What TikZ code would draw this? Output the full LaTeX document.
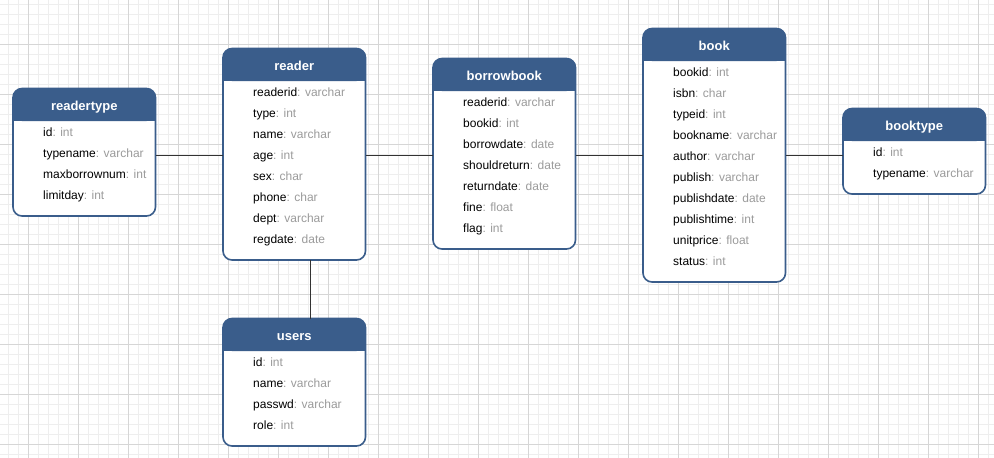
\documentclass[tikz,border=0pt]{standalone}
\usepackage{fontspec}
\setmainfont{Liberation Sans}
\usetikzlibrary{calc}
\definecolor{headcol}{HTML}{3A5D8B}
\definecolor{typegray}{HTML}{9B9B9B}
\definecolor{gridminor}{HTML}{EEEEEE}
\definecolor{gridmajor}{HTML}{D6D6D6}
\definecolor{linkgray}{HTML}{333333}
\newcommand\ertable[6]{%
  \pgfmathsetmacro\erh{32.5+21*#4+11}%
  \node[tablebox, minimum height=\erh pt, anchor=north west] (#1) at (#2,#3) {};
  \node[headbox, anchor=north west] (#1-head) at (#2,#3) {};
  \fill[headcol] (#1-head.west) rectangle (#1-head.south east);
  \path (#1-head.north) ++(0,21.5) node[headtext, anchor=base] (#1-title) {#5};
  \foreach \f/\t [count=\i] in {#6} {
    \path (#1.north west) ++(30,{47.5+21*(\i-1)}) node[rowtext, anchor=base west] (#1-r\i) {\f\textcolor{typegray}{: \t}};
  }
  \draw[tableborder] (#1.north west) rectangle (#1.south east);
}
\begin{document}
\begin{tikzpicture}[x=1pt,y=-1pt,
  tablebox/.style={rectangle, fill=white, draw=none, minimum width=142.5pt, inner sep=0pt, outer sep=0pt, rounded corners=9pt},
  headbox/.style={rectangle, fill=headcol, draw=none, minimum width=142.5pt, minimum height=32.5pt, inner sep=0pt, outer sep=0pt, rounded corners=9pt},
  tableborder/.style={draw=headcol, line width=1.6pt, rounded corners=9pt},
  headtext/.style={text=white, inner sep=0pt, font=\fontsize{13}{15}\selectfont\bfseries},
  rowtext/.style={text=black, inner sep=0pt, font=\fontsize{12}{14}\selectfont},
  minorline/.style={draw=gridminor, line width=1pt},
  majorline/.style={draw=gridmajor, line width=1pt},
  link/.style={draw=linkgray, line width=1pt}]
\useasboundingbox (0,0) rectangle (994,458);
\fill[white] (0,0) rectangle (994,458);
% grid
\foreach \k in {0,...,98} \draw[minorline] ({8+10*\k},0) -- ({8+10*\k},458);
\foreach \k in {0,...,45} \draw[minorline] (0,{4.3+10*\k}) -- (994,{4.3+10*\k});
\foreach \k in {0,...,19} \draw[majorline] ({28+50*\k},0) -- ({28+50*\k},458);
\foreach \k in {0,...,8} \draw[majorline] (0,{44.3+50*\k}) -- (994,{44.3+50*\k});
% tables
\ertable{readertype}{13}{88.5}{4}{readertype}{id/int, typename/varchar, maxborrownum/int, limitday/int}
\ertable{reader}{223}{48.5}{8}{reader}{readerid/varchar, type/int, name/varchar, age/int, sex/char, phone/char, dept/varchar, regdate/date}
\ertable{borrowbook}{433}{58.5}{7}{borrowbook}{readerid/varchar, bookid/int, borrowdate/date, shouldreturn/date, returndate/date, fine/float, flag/int}
\ertable{book}{643}{28.5}{10}{book}{bookid/int, isbn/char, typeid/int, bookname/varchar, author/varchar, publish/varchar, publishdate/date, publishtime/int, unitprice/float, status/int}
\ertable{booktype}{843}{108.5}{2}{booktype}{id/int, typename/varchar}
\ertable{users}{223}{318.5}{4}{users}{id/int, name/varchar, passwd/varchar, role/int}
% connectors
\coordinate (linkrow) at (0,155.5);
\coordinate (linkcol) at (310,0);
\draw[link] (readertype.east |- linkrow) -- (reader.west |- linkrow);
\draw[link] (reader.east |- linkrow) -- (borrowbook.west |- linkrow);
\draw[link] (borrowbook.east |- linkrow) -- (book.west |- linkrow);
\draw[link] (book.east |- linkrow) -- (booktype.west |- linkrow);
\draw[link] (reader.south -| linkcol) -- (users.north -| linkcol);
\end{tikzpicture}
\end{document}
